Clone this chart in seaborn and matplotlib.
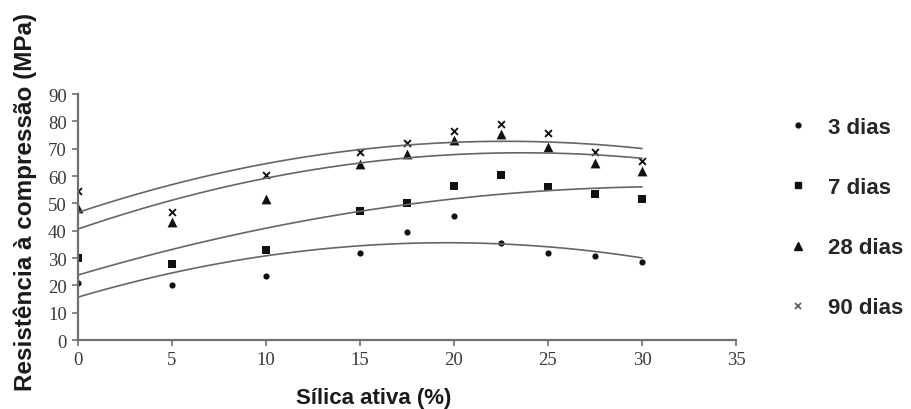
import numpy as np
import pandas as pd
import seaborn as sns
import matplotlib.pyplot as plt
from matplotlib.lines import Line2D

silica = [0, 5, 10, 15, 17.5, 20, 22.5, 25, 27.5, 30]
dias_3 = [21, 20, 23.5, 32, 39.6, 45.5, 35.7, 32, 30.8, 28.4]
dias_7 = [30, 27.8, 32.9, 47.3, 50, 56.5, 60.4, 55.9, 53.4, 51.8]
dias_28 = [48.3, 43.3, 51.6, 64.4, 68, 73.3, 75.4, 70.5, 64.8, 62]
dias_90 = [54.6, 47, 60.4, 68.7, 72.3, 76.5, 79, 75.7, 68.7, 65.6]
series_labels = ['3 dias', '7 dias', '28 dias', '90 dias']
x_ticks = [0, 5, 10, 15, 20, 25, 30, 35]
y_ticks = [0, 10, 20, 30, 40, 50, 60, 70, 80, 90]

sns.set_style('ticks')

df = pd.DataFrame({'silica': silica, '3 dias': dias_3, '7 dias': dias_7,
                   '28 dias': dias_28, '90 dias': dias_90})

fig = plt.figure(figsize=(9.12, 4.10), dpi=100)
ax = fig.add_axes([0.0855, 0.168, 0.7215, 0.6])

styles = {
    '3 dias': dict(marker='o', s=20, lw=0),
    '7 dias': dict(marker='s', s=28, lw=0),
    '28 dias': dict(marker='^', s=50, lw=0),
    '90 dias': dict(marker='x', s=24, lw=1.4),
}
for lab in series_labels:
    st = styles[lab]
    sns.regplot(data=df, x='silica', y=lab, order=2, ci=None, ax=ax,
                marker=st['marker'],
                scatter_kws=dict(s=st['s'], color='#111111', linewidths=st['lw'], alpha=1),
                line_kws=dict(color='#666666', lw=1.2))

ax.set_xlim(0, 35)
ax.set_ylim(0, 90)
ax.set_xticks(x_ticks)
ax.set_yticks(y_ticks)
ax.set_xticklabels([str(t) for t in x_ticks])
ax.set_yticklabels([str(t) for t in y_ticks])
for spine in ['top', 'right']:
    ax.spines[spine].set_visible(False)
for spine in ['left', 'bottom']:
    ax.spines[spine].set_color('#707070')
    ax.spines[spine].set_linewidth(1.6)
ax.tick_params(axis='both', direction='out', length=4, width=1.2, color='#707070',
               labelsize=13.5, labelcolor='#3a3a3a', pad=4)
for t in ax.get_xticklabels() + ax.get_yticklabels():
    t.set_fontfamily('Liberation Serif')

ax.set_xlabel('Sílica ativa (%)', fontsize=16, fontweight='bold',
              fontfamily='Liberation Sans', color='#1a1a1a')
ax.set_ylabel('Resistência à compressão (MPa)', fontsize=17.5, fontweight='bold',
              fontfamily='Liberation Sans', color='#1a1a1a')
ax.xaxis.set_label_coords(0.45, -0.19)
ax.yaxis.set_label_coords(-0.062, 0.565)

handles = [
    Line2D([], [], marker='o', linestyle='none', color='#111111', markersize=3.5),
    Line2D([], [], marker='s', linestyle='none', color='#111111', markersize=4),
    Line2D([], [], marker='^', linestyle='none', color='#111111', markersize=5.5),
    Line2D([], [], marker='x', linestyle='none', color='#555555', markersize=4, markeredgewidth=1.2),
]
fig.legend(handles, series_labels, loc='upper left', bbox_to_anchor=(0.865, 0.712),
           frameon=False, borderpad=0, borderaxespad=0, labelspacing=1.76,
           handlelength=0.8, handletextpad=0.95,
           prop=dict(family='Liberation Sans', weight='bold', size=16))

fig.savefig('out.png', dpi=100)
